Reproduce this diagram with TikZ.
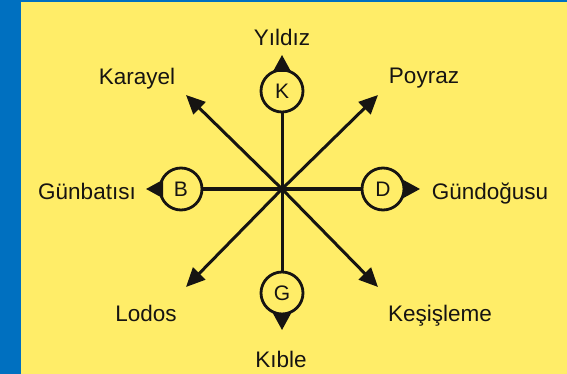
\documentclass[tikz,border=0pt]{standalone}
\usepackage{fontspec}
\setmainfont{Liberation Sans}
\usetikzlibrary{arrows.meta}
\definecolor{bgblue}{RGB}{0,112,192}
\definecolor{bgyellow}{RGB}{255,237,104}
\definecolor{ink}{RGB}{22,20,18}
\begin{document}
\begin{tikzpicture}[x=1pt,y=-1pt,
  lbl/.style={font=\fontsize{22.5}{24}\selectfont, text=ink, anchor=base, inner sep=0pt},
  dirc/.style={circle, draw=ink, fill=bgyellow, line width=2.8pt, minimum size=42pt, inner sep=0pt, outer sep=0pt, font=\fontsize{21}{22}\selectfont, text=ink},
  ray/.style={draw=ink, line width=3pt},
  darrow/.style={ray, -{Triangle[length=19pt,width=17pt]}},
  pin/.style={draw=ink, line width=2pt, -{Triangle[length=17pt,width=18pt]}}]
\useasboundingbox (0,0) rectangle (567,374);
\fill[bgblue] (0,0) rectangle (567,374);
\fill[bgyellow] (21,2) rectangle (567,374);
% centre and free ends
\coordinate (O) at (282,189);
\coordinate (NW) at (186,95);
\coordinate (NE) at (378,95);
\coordinate (SW) at (186,287);
\coordinate (SE) at (378,287);
\coordinate (Kt) at (282,55);
\coordinate (Gt) at (282,330);
\coordinate (Bt) at (146,189);
\coordinate (Dt) at (420,189);
% rays
\draw[darrow] (O) -- (NW);
\draw[darrow] (O) -- (NE);
\draw[darrow] (O) -- (SW);
\draw[darrow] (O) -- (SE);
% circles
\node[dirc] (K) at (282,91) {K};
\node[dirc] (G) at (282,293) {G};
\node[dirc] (B) at (181,189) {B};
\node[dirc] (D) at (383,189) {D};
\draw[ray] (O) -- (K);
\draw[ray] (O) -- (G);
\draw[ray] (O) -- (B);
\draw[ray] (O) -- (D);
\draw[pin] (K) -- (Kt);
\draw[pin] (G) -- (Gt);
\draw[pin] (B) -- (Bt);
\draw[pin] (D) -- (Dt);
% labels
\node[lbl] (yildiz) at (282,46) {Yıldız};
\node[lbl] (karayel) at (137,85) {Karayel};
\node[lbl] (poyraz) at (424,84) {Poyraz};
\node[lbl] (gunbatisi) at (87,199) {Günbatısı};
\node[lbl] (gundogusu) at (490,199) {Gündoğusu};
\node[lbl] (lodos) at (146,321) {Lodos};
\node[lbl] (kesisleme) at (440,321) {Keşişleme};
\node[lbl] (kible) at (281,367) {Kıble};
\end{tikzpicture}
\end{document}
